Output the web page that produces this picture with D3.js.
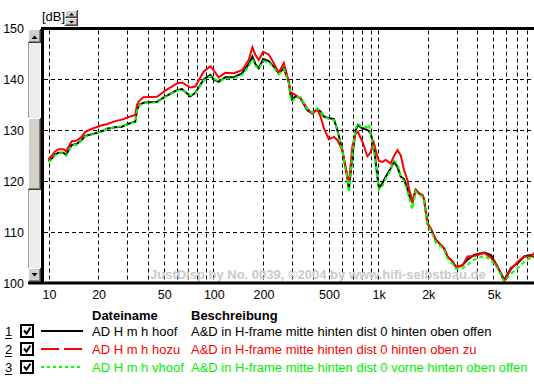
<!DOCTYPE html>
<html>
<head>
<meta charset="utf-8">
<script src="https://cdn.jsdelivr.net/npm/d3@7"></script>
<style>
  body { margin: 0; background: #fff; }
  svg { display: block; font-family: "Liberation Sans", Arial, sans-serif; }
</style>
</head>
<body>
<svg id="chart" width="534" height="386"></svg>
<script>
// Frequency points (Hz) and the three measured curves (dB)
const freqs = [10, 10.5, 10.9, 11.5, 12.3, 12.8, 13.8, 14.8, 15.9, 16.7, 18.7, 21.1, 22.6, 25.4, 27.9, 30.6, 33.6, 34.4, 35.5, 37.7,
  45.5, 51.1, 60.2, 64.5, 72.5, 77.7, 87.3, 95.9, 100.4, 107.7, 118.3, 132.9, 149.5, 163.9, 172.6, 180, 188.6, 200.5, 216.9, 232.6,
  249.5, 267.6, 287, 293.9, 300.9, 315.1, 338, 371.2, 398.1, 427, 447.3, 468.4, 502.2, 538.7, 564.9, 605.9, 649.8, 664.5, 697, 730,
  754, 801.7, 859.9, 880, 900.5, 943, 988.8, 1011, 1060, 1111, 1191, 1250, 1309, 1370, 1435, 1505, 1539, 1576, 1614, 1690,
  1770, 1857, 1898, 1991, 2085, 2236, 2399, 2512, 2635, 2826, 2959, 3099, 3251, 3485, 3822, 4398, 4830, 5304, 5817, 6390,
  7019, 7697, 8455, 8854, 9300];

const hoof = [124.0, 124.5, 125.2, 125.6, 125.6, 125.2, 127.1, 127.3, 128.1, 128.9, 129.3, 129.8, 130.3, 130.6, 130.7, 131.3, 131.7, 134.0, 135.0, 135.4,
  135.6, 136.6, 137.9, 138.1, 136.7, 137.3, 140.0, 140.9, 140.0, 139.5, 140.4, 140.4, 141.2, 143.0, 144.5, 143.0, 142.2, 144.0, 143.6, 142.5,
  141.2, 142.2, 139.5, 137.0, 136.0, 136.7, 136.3, 134.0, 133.3, 134.1, 133.7, 132.7, 132.4, 132.2, 130.1, 126.1, 120.9, 118.3, 124.8, 130.1,
  131.0, 130.4, 130.1, 129.8, 129.4, 126.8, 120.9, 118.6, 119.6, 120.9, 122.5, 123.8, 122.8, 120.9, 120.4, 118.5, 117.3, 116.5, 116.0, 118.3,
  117.6, 117.2, 116.5, 111.7, 110.7, 108.5, 107.5, 106.8, 105.2, 104.2, 103.2, 103.3, 103.5, 104.6, 105.5, 106.0, 105.5, 103.2, 100.6, 102.9,
  103.9, 105.2, 105.5, 105.0, 105.3];

const hozu = [124.3, 125.0, 125.8, 126.3, 126.3, 125.9, 127.8, 128.0, 128.7, 129.7, 130.4, 131.0, 131.2, 131.8, 132.1, 132.6, 133.0, 135.0, 135.8, 136.5,
  136.6, 137.8, 139.2, 139.4, 138.4, 138.6, 141.5, 142.6, 141.8, 140.4, 141.3, 141.2, 141.8, 143.8, 146.3, 144.8, 143.8, 145.4, 144.9, 143.2,
  141.3, 143.2, 139.5, 137.5, 137.3, 136.9, 136.3, 134.3, 133.3, 134.1, 132.7, 130.4, 128.2, 128.7, 128.1, 126.1, 120.9, 119.6, 126.8, 129.4,
  129.7, 127.8, 124.9, 125.2, 125.8, 127.5, 124.8, 124.0, 123.8, 124.2, 123.5, 125.0, 126.1, 125.1, 122.2, 120.2, 118.5, 117.3, 115.7, 118.3,
  117.6, 117.3, 116.5, 111.7, 110.7, 108.5, 107.5, 106.8, 105.2, 104.2, 103.2, 103.2, 103.5, 105.2, 105.3, 105.9, 105.0, 103.2, 100.3, 102.7,
  104.2, 105.2, 105.2, 105.9, 106.0];

const vhoof = [123.8, 124.3, 125.0, 125.5, 125.5, 125.0, 127.0, 127.2, 128.0, 128.8, 129.2, 129.8, 130.3, 130.6, 130.8, 131.2, 131.6, 133.8, 134.9, 135.3,
  135.5, 136.5, 137.8, 138.0, 136.9, 137.2, 139.8, 140.6, 140.2, 139.6, 140.2, 140.2, 140.9, 142.6, 144.0, 142.7, 142.0, 143.6, 143.4, 142.3,
  141.0, 142.0, 139.2, 136.5, 135.6, 136.5, 136.5, 134.2, 133.5, 134.3, 133.8, 132.8, 132.2, 132.0, 130.0, 126.0, 120.5, 117.8, 125.0, 130.3,
  131.4, 130.5, 130.7, 131.2, 129.0, 126.2, 120.5, 118.3, 119.0, 120.5, 122.2, 124.0, 123.5, 121.0, 120.0, 118.0, 116.8, 115.5, 114.5, 118.0,
  117.3, 117.0, 116.2, 111.5, 110.3, 108.0, 107.2, 106.5, 104.8, 103.7, 102.8, 102.8, 102.9, 103.6, 104.6, 105.3, 104.6, 102.8, 100.3, 101.8,
  102.9, 104.2, 105.0, 105.1, 105.4];

const gridFreqs = [10, 20, 30, 40, 50, 60, 70, 80, 90, 100, 200, 300, 400, 500, 600, 700, 800, 900,
  1000, 2000, 3000, 4000, 5000, 6000, 7000, 8000, 9000];
const xTickVals = [10, 20, 50, 100, 200, 500, 1000, 2000, 5000];
const xTickLabels = ["10", "20", "50", "100", "200", "500", "1k", "2k", "5k"];
const yTickVals = [100, 110, 120, 130, 140, 150];

const seriesNames = ["AD H m h hoof", "AD H m h hozu", "AD H m h vhoof"];
const seriesDescs = [
  "A&D in H-frame mitte hinten dist 0 hinten oben offen",
  "A&D in H-frame mitte hinten dist 0 hinten oben zu",
  "A&D in H-frame mitte hinten dist 0 vorne hinten oben offen"
];
const seriesColors = ["#000000", "#ff0000", "#00f000"];

const svg = d3.select("#chart");
const plot = { left: 42, right: 534, top: 28.5, bottom: 283 };

const x = d3.scaleLog().domain([10, 10000]).range([48.5, 543]);
const y = d3.scaleLinear().domain([100, 150]).range([plot.bottom, plot.top]);

svg.append("rect").attr("width", 534).attr("height", 386).attr("fill", "#fff");

svg.append("clipPath").attr("id", "clip")
  .append("rect")
  .attr("x", plot.left + 2).attr("y", plot.top + 1)
  .attr("width", plot.right - plot.left).attr("height", plot.bottom - plot.top - 1);

// Grid
const grid = svg.append("g").attr("stroke", "#000").attr("stroke-width", 1).attr("stroke-dasharray", "4,3");
grid.selectAll("line.v")
  .data(gridFreqs)
  .join("line")
  .attr("class", "v")
  .attr("x1", d => Math.round(x(d)) + 0.5)
  .attr("x2", d => Math.round(x(d)) + 0.5)
  .attr("y1", plot.top + 2)
  .attr("y2", plot.bottom - 1);
grid.selectAll("line.h")
  .data(yTickVals.slice(1, -1))
  .join("line")
  .attr("class", "h")
  .attr("x1", plot.left + 2)
  .attr("x2", plot.right)
  .attr("y1", d => Math.round(y(d)) + 0.5)
  .attr("y2", d => Math.round(y(d)) + 0.5);

// Watermark
svg.append("text")
  .attr("x", 150).attr("y", 279)
  .attr("font-size", "13px").attr("font-weight", "bold")
  .attr("fill", "#cacaca")
  .text("JustDisp by No. 0039, \u00a92004 by www.hifi-selbstbau.de");

// Curves
const line = d3.line()
  .x(d => x(d[0]))
  .y(d => y(d[1]));

const curves = [
  { values: hoof, color: "#000000", dash: null },
  { values: hozu, color: "#ff0000", dash: null },
  { values: vhoof, color: "#00ff00", dash: "4,3" }
];

svg.append("g")
  .attr("clip-path", "url(#clip)")
  .selectAll("path")
  .data(curves)
  .join("path")
  .attr("fill", "none")
  .attr("stroke", d => d.color)
  .attr("stroke-width", 2)
  .attr("stroke-dasharray", d => d.dash)
  .attr("d", d => line(freqs.map((f, i) => [f, d.values[i]])));

// Frame
svg.append("line").attr("x1", 42.5).attr("x2", 42.5).attr("y1", 27).attr("y2", 284)
  .attr("stroke", "#000").attr("stroke-width", 3);
svg.append("line").attr("x1", 41).attr("x2", 534).attr("y1", 28.5).attr("y2", 28.5)
  .attr("stroke", "#000").attr("stroke-width", 3);
svg.append("line").attr("x1", 28).attr("x2", 534).attr("y1", 283).attr("y2", 283)
  .attr("stroke", "#000").attr("stroke-width", 3);

// Y axis labels
svg.append("g")
  .selectAll("text")
  .data(yTickVals)
  .join("text")
  .attr("x", 24)
  .attr("y", d => y(d))
  .attr("dy", "0.36em")
  .attr("text-anchor", "end")
  .attr("font-size", "12.5px")
  .text(d => d);

// X axis labels
svg.append("g")
  .selectAll("text")
  .data(xTickVals)
  .join("text")
  .attr("x", d => x(d) + 1)
  .attr("y", 299)
  .attr("text-anchor", "middle")
  .attr("font-size", "12.5px")
  .text((d, i) => xTickLabels[i]);

// 3D button helper (Windows style)
function button(g, bx, by, bw, bh) {
  g.append("rect").attr("x", bx).attr("y", by).attr("width", bw).attr("height", bh).attr("fill", "#404040");
  g.append("rect").attr("x", bx).attr("y", by).attr("width", bw - 1).attr("height", bh - 1).attr("fill", "#ffffff");
  g.append("rect").attr("x", bx + 1).attr("y", by + 1).attr("width", bw - 2).attr("height", bh - 2).attr("fill", "#808080");
  g.append("rect").attr("x", bx + 1).attr("y", by + 1).attr("width", bw - 3).attr("height", bh - 3).attr("fill", "#d4d0c8");
}

// Scrollbar
const sb = svg.append("g");
sb.append("rect").attr("x", 28).attr("y", 29).attr("width", 12).attr("height", 253).attr("fill", "#ececec");
sb.append("line").attr("x1", 28.5).attr("x2", 28.5).attr("y1", 29).attr("y2", 282).attr("stroke", "#a0a0a0");
button(sb, 28, 29, 13, 14);
button(sb, 28, 118, 13, 72);
button(sb, 28, 268, 13, 14);
sb.append("path").attr("d", "M31.5,39 L37.5,39 L34.5,35.5 Z").attr("fill", "#000");
sb.append("path").attr("d", "M31.5,273 L37.5,273 L34.5,276.5 Z").attr("fill", "#000");

// [dB] label with spin buttons
svg.append("text").attr("x", 42).attr("y", 21).attr("font-size", "13px").text("[dB]");
const sp = svg.append("g");
button(sp, 65, 10, 13, 8);
button(sp, 65, 18, 13, 8);
sp.append("path").attr("d", "M69,15.5 L74,15.5 L71.5,13 Z").attr("fill", "#000");
sp.append("path").attr("d", "M69,21 L74,21 L71.5,23.5 Z").attr("fill", "#000");

// Legend
const legend = svg.append("g").attr("font-size", "13px");
legend.append("text").attr("x", 92).attr("y", 320).attr("font-weight", "bold").text("Dateiname");
legend.append("text").attr("x", 191).attr("y", 320).attr("font-weight", "bold").text("Beschreibung");

const legendDash = [null, "18,5", "3,3"];
const rows = legend.selectAll("g.row")
  .data(seriesNames)
  .join("g")
  .attr("class", "row")
  .attr("transform", (d, i) => `translate(0, ${336 + i * 18})`);

rows.append("text").attr("x", 5).attr("y", 0).attr("fill", "#000").text((d, i) => i + 1);
rows.append("line").attr("x1", 5).attr("x2", 12).attr("y1", 2.5).attr("y2", 2.5).attr("stroke", "#000");
rows.append("rect").attr("x", 21).attr("y", -11).attr("width", 12).attr("height", 12)
  .attr("fill", "#fff").attr("stroke", "#000").attr("stroke-width", 2);
rows.append("path").attr("d", "M24,-5.5 L26.5,-2.5 L30.5,-8.5").attr("fill", "none").attr("stroke", "#000").attr("stroke-width", 2);
rows.append("line")
  .attr("x1", 41).attr("x2", 83).attr("y1", -5).attr("y2", -5)
  .attr("stroke", (d, i) => i === 2 ? "#00ff00" : seriesColors[i])
  .attr("stroke-width", 2)
  .attr("stroke-dasharray", (d, i) => legendDash[i]);
rows.append("text").attr("x", 92).attr("y", 0)
  .attr("fill", (d, i) => seriesColors[i])
  .text(d => d);
rows.append("text").attr("x", 191).attr("y", 0)
  .attr("fill", (d, i) => seriesColors[i])
  .text((d, i) => seriesDescs[i]);
</script>
</body>
</html>
